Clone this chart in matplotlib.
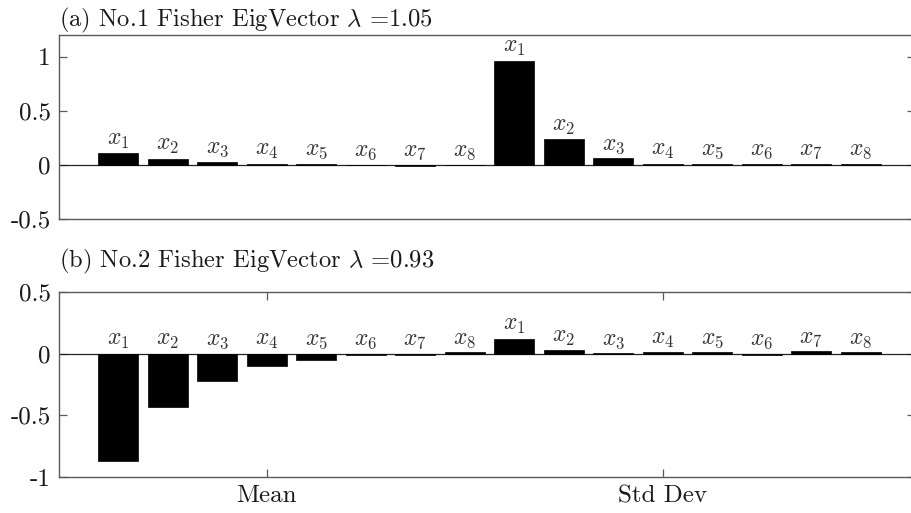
import matplotlib
matplotlib.use("Agg")
import matplotlib.pyplot as plt
import numpy as np

# ============================================================
# Data
# ============================================================
feature_labels = [rf"$x_{{{k}}}$" for k in range(1, 9)] * 2

vec1_mean = [0.107, 0.052, 0.030, 0.010, 0.010, 0.003, -0.010, 0.003]
vec1_std = [0.963, 0.236, 0.061, 0.010, 0.010, 0.010, 0.010, 0.010]
vec2_mean = [-0.868, -0.432, -0.224, -0.103, -0.054, -0.010, -0.010, 0.010]
vec2_std = [0.122, 0.027, 0.002, 0.010, 0.010, -0.010, 0.019, 0.010]

titles = [
    r"(a) No.1 Fisher EigVector $\lambda$ =1.05",
    r"(b) No.2 Fisher EigVector $\lambda$ =0.93",
]

yticks_a = [-0.5, 0, 0.5, 1]
yticklabels_a = ["-0.5", "0", "0.5", "1"]
yticks_b = [-1, -0.5, 0, 0.5]
yticklabels_b = ["-1", "-0.5", "0", "0.5"]

group_names = ["Mean", "Std Dev"]
group_ticks = [4, 12]

# ============================================================
# Style
# ============================================================
plt.rcParams["font.family"] = "serif"
plt.rcParams["font.serif"] = ["cmr10", "DejaVu Serif"]
plt.rcParams["mathtext.fontset"] = "cm"
plt.rcParams["axes.unicode_minus"] = False
plt.rcParams["axes.formatter.use_mathtext"] = True

W, H = 912, 513
fig = plt.figure(figsize=(W / 100, H / 100), dpi=100)

x = np.arange(1, 17)
spine_col = "#5a5a5a"
text_col = "#1a1a1a"


def make_axes(top_px, bottom_px):
    left_px, right_px = 59, 915
    return fig.add_axes(
        [
            left_px / W,
            (H - bottom_px) / H,
            (right_px - left_px) / W,
            (bottom_px - top_px) / H,
        ]
    )


def draw_panel(ax, values, ylim, yticks, yticklabels, title, title_pad):
    ax.bar(x, values, width=0.81, color="black", edgecolor="black", linewidth=0.5, zorder=3)
    ax.axhline(0, color="#222222", lw=0.9, zorder=2)
    for xi, v, lab in zip(x, values, feature_labels):
        ax.annotate(
            lab,
            (xi, max(v, 0)),
            xytext=(0, 2),
            textcoords="offset points",
            ha="center",
            va="bottom",
            fontsize=17,
            color="#333333",
        )
    ax.set_xlim(-0.2, 17.1)
    ax.set_ylim(*ylim)
    ax.set_yticks(yticks)
    ax.set_yticklabels(yticklabels, fontsize=18, color=text_col)
    ax.set_title(title, loc="left", fontsize=17.7, pad=title_pad, color=text_col)
    for s in ax.spines.values():
        s.set_color(spine_col)
        s.set_linewidth(1.0)
    ax.tick_params(
        axis="both",
        direction="in",
        length=6,
        width=0.9,
        color=spine_col,
        right=True,
        top=True,
        pad=6,
    )


ax1 = make_axes(35, 219)
draw_panel(ax1, vec1_mean + vec1_std, (-0.5, 1.2), yticks_a, yticklabels_a, titles[0], 5.8)
ax1.set_xticks([])

ax2 = make_axes(292, 477)
draw_panel(ax2, vec2_mean + vec2_std, (-1, 0.5), yticks_b, yticklabels_b, titles[1], 18)
ax2.set_xticks(group_ticks)
ax2.set_xticklabels(group_names, fontsize=18, color=text_col)

fig.savefig("out.png", dpi=100)
